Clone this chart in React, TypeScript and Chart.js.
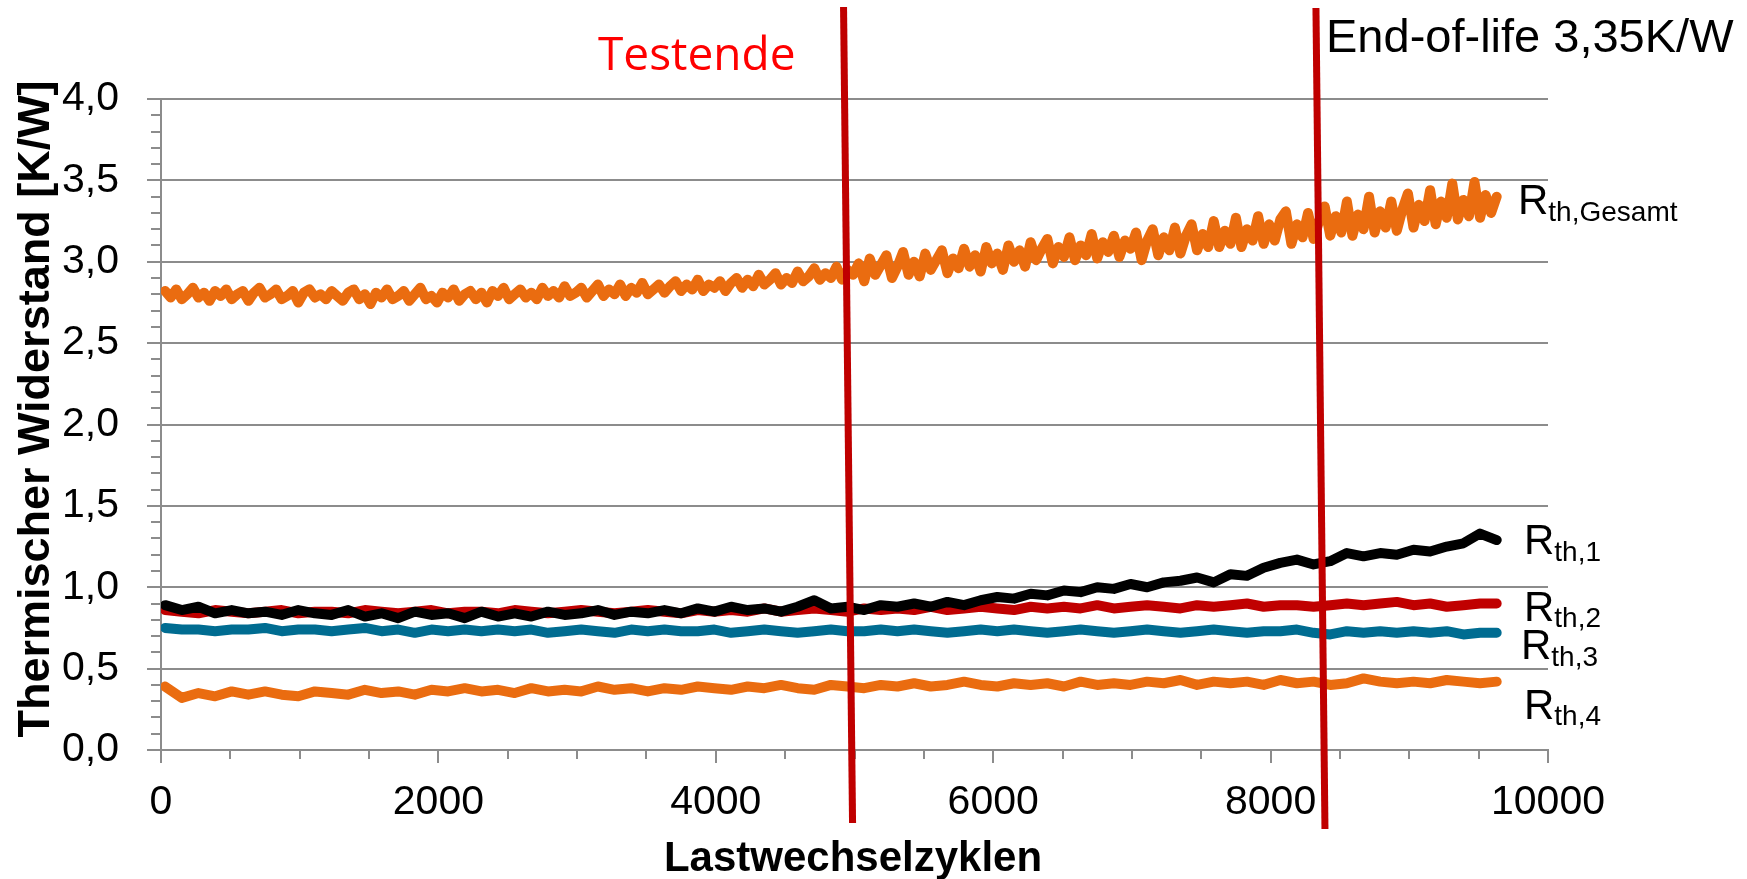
import React, { useEffect, useRef } from 'react';
import { Chart, registerables } from 'chart.js';

Chart.register(...registerables);

// ---- Data ----
const GESAMT_START = 30;
const GESAMT_STEP = 40;
const rthGesamt = [
  2.82, 2.78, 2.83, 2.77, 2.80, 2.84, 2.78, 2.81, 2.76, 2.82,
  2.79, 2.83, 2.77, 2.80, 2.82, 2.76, 2.81, 2.84, 2.78, 2.80,
  2.83, 2.77, 2.79, 2.82, 2.75, 2.81, 2.83, 2.78, 2.80, 2.77,
  2.82, 2.79, 2.76, 2.81, 2.83, 2.77, 2.80, 2.74, 2.81, 2.78,
  2.83, 2.77, 2.79, 2.82, 2.76, 2.80, 2.84, 2.77, 2.79, 2.75,
  2.81, 2.78, 2.83, 2.76, 2.80, 2.82, 2.77, 2.81, 2.75, 2.82,
  2.79, 2.84, 2.77, 2.80, 2.83, 2.78, 2.81, 2.77, 2.84, 2.79,
  2.82, 2.78, 2.85, 2.79, 2.81,
  2.84, 2.78, 2.82, 2.86, 2.79,
  2.83, 2.80, 2.86, 2.79, 2.84, 2.81, 2.87, 2.80, 2.83, 2.86,
  2.81, 2.85, 2.88, 2.82, 2.86, 2.83, 2.89, 2.82, 2.86, 2.84,
  2.88, 2.82, 2.87, 2.90, 2.84, 2.89, 2.85, 2.92, 2.86, 2.89,
  2.93, 2.86, 2.90, 2.87, 2.94, 2.88, 2.91, 2.96, 2.89, 2.93,
  2.90, 2.97, 2.89, 2.95, 2.92,
  2.99, 2.88, 3.02, 2.92, 2.98,
  3.04, 2.90, 2.97, 3.06, 2.92, 3.00, 2.91, 3.05, 2.95, 3.01,
  3.07, 2.93, 3.02, 2.96, 3.08, 2.97, 3.04, 2.94, 3.09, 2.99,
  3.05, 2.95, 3.10, 3.00, 3.07, 2.97, 3.12, 3.01, 3.08, 3.14,
  2.99, 3.09, 3.03, 3.15, 3.01, 3.10, 3.04, 3.17, 3.02, 3.12,
  3.06, 3.16, 3.03, 3.13, 3.08,
  3.18, 3.01, 3.13, 3.20, 3.04,
  3.15, 3.07, 3.21, 3.05, 3.16, 3.23, 3.07, 3.17, 3.09, 3.25,
  3.09, 3.19, 3.11, 3.27, 3.09, 3.20, 3.13, 3.28, 3.11, 3.23,
  3.13, 3.26, 3.31, 3.11, 3.23, 3.15, 3.30, 3.14, 3.25, 3.34,
  3.16, 3.28, 3.18, 3.37, 3.16, 3.29, 3.20, 3.40, 3.18, 3.31,
  3.21, 3.37, 3.19, 3.32, 3.42,
  3.21, 3.35, 3.25, 3.44, 3.23,
  3.37, 3.27, 3.48, 3.26, 3.38, 3.28, 3.49, 3.27, 3.41, 3.30,
  3.40,
];

const SERIES_START = 30;
const SERIES_STEP = 120;
const rth1 = [
  0.89, 0.86, 0.88, 0.84, 0.86, 0.84, 0.85, 0.83, 0.86, 0.84,
  0.83, 0.86, 0.82, 0.84, 0.81, 0.85, 0.83, 0.84, 0.81, 0.85,
  0.82, 0.84, 0.82, 0.85, 0.83, 0.84, 0.86, 0.83, 0.85, 0.84,
  0.86, 0.84, 0.87, 0.85, 0.88, 0.86, 0.87, 0.85, 0.88, 0.92,
  0.87, 0.88, 0.86, 0.89, 0.88, 0.90, 0.88, 0.91, 0.89, 0.92,
  0.94, 0.93, 0.96, 0.95, 0.98, 0.97, 1.00, 0.99, 1.02, 1.00,
  1.03, 1.04, 1.06, 1.03, 1.08, 1.07, 1.12, 1.15, 1.17, 1.14,
  1.16, 1.21, 1.19, 1.21, 1.20, 1.23, 1.22, 1.25, 1.27, 1.33,
  1.29,
];
const rth2 = [
  0.86, 0.85, 0.84, 0.86, 0.85, 0.84, 0.85, 0.86, 0.84, 0.85,
  0.85, 0.84, 0.86, 0.85, 0.84, 0.85, 0.86, 0.84, 0.85, 0.85,
  0.84, 0.86, 0.85, 0.84, 0.85, 0.86, 0.85, 0.84, 0.85, 0.86,
  0.85, 0.84, 0.86, 0.85, 0.86, 0.85, 0.87, 0.85, 0.86, 0.87,
  0.86, 0.85, 0.87, 0.86, 0.87, 0.86, 0.88, 0.86, 0.87, 0.88,
  0.87, 0.86, 0.88, 0.87, 0.88, 0.87, 0.89, 0.87, 0.88, 0.89,
  0.88, 0.87, 0.89, 0.88, 0.89, 0.90, 0.88, 0.89, 0.89, 0.88,
  0.89, 0.90, 0.89, 0.90, 0.91, 0.89, 0.90, 0.88, 0.89, 0.90,
  0.90,
];
const rth3 = [
  0.75, 0.74, 0.74, 0.73, 0.74, 0.74, 0.75, 0.73, 0.74, 0.74,
  0.73, 0.74, 0.75, 0.73, 0.74, 0.72, 0.74, 0.73, 0.74, 0.73,
  0.74, 0.73, 0.74, 0.72, 0.73, 0.74, 0.73, 0.72, 0.74, 0.73,
  0.74, 0.73, 0.73, 0.74, 0.72, 0.73, 0.74, 0.73, 0.72, 0.73,
  0.74, 0.73, 0.73, 0.74, 0.73, 0.74, 0.73, 0.72, 0.73, 0.74,
  0.73, 0.74, 0.73, 0.72, 0.73, 0.74, 0.73, 0.72, 0.73, 0.74,
  0.73, 0.72, 0.73, 0.74, 0.73, 0.72, 0.73, 0.73, 0.74, 0.72,
  0.71, 0.73, 0.72, 0.73, 0.72, 0.73, 0.72, 0.73, 0.71, 0.72,
  0.72,
];
const rth4 = [
  0.39, 0.32, 0.35, 0.33, 0.36, 0.34, 0.36, 0.34, 0.33, 0.36,
  0.35, 0.34, 0.37, 0.35, 0.36, 0.34, 0.37, 0.36, 0.38, 0.36,
  0.37, 0.35, 0.38, 0.36, 0.37, 0.36, 0.39, 0.37, 0.38, 0.36,
  0.38, 0.37, 0.39, 0.38, 0.37, 0.39, 0.38, 0.40, 0.38, 0.37,
  0.40, 0.39, 0.38, 0.40, 0.39, 0.41, 0.39, 0.40, 0.42, 0.40,
  0.39, 0.41, 0.40, 0.41, 0.39, 0.42, 0.40, 0.41, 0.40, 0.42,
  0.41, 0.43, 0.40, 0.42, 0.41, 0.42, 0.40, 0.43, 0.41, 0.42,
  0.40, 0.41, 0.44, 0.42, 0.41, 0.42, 0.41, 0.43, 0.42, 0.41,
  0.42,
];

const seriesLabels = ['Gesamt', '1', '2', '3', '4'];
const xTickStep = 2000;
const xMinorStep = 500;
const yTickStep = 0.5;
const yMinorStep = 0.1;

// Slanted red marker lines (data coordinates, extending beyond axes)
const markerTopX = [4921, 8327];
const markerTopY = [4.565, 4.559];
const markerBottomX = [4986, 8392];
const markerBottomY = [-0.449, -0.485];

const SANS = '"Liberation Sans", Arial, sans-serif';

function toPoints(start: number, step: number, values: number[]) {
  return values.map((v, i) => ({ x: start + step * i, y: v }));
}

const overlayPlugin = {
  id: 'overlay',
  afterDraw(chart: any) {
    const { ctx, chartArea, scales } = chart;
    const xs = scales.x;
    const ys = scales.y;
    ctx.save();
    // minor ticks
    ctx.strokeStyle = '#8c8c8c';
    ctx.lineWidth = 2;
    ctx.beginPath();
    for (let i = 1; i < Math.round(4 / yMinorStep); i++) {
      if (i % 5 === 0) continue;
      const y = Math.round(ys.getPixelForValue(i * yMinorStep));
      ctx.moveTo(chartArea.left - 10, y);
      ctx.lineTo(chartArea.left, y);
    }
    for (let v = xMinorStep; v < 10000; v += xMinorStep) {
      if (v % xTickStep === 0) continue;
      const x = Math.round(xs.getPixelForValue(v));
      ctx.moveTo(x, chartArea.bottom);
      ctx.lineTo(x, chartArea.bottom + 9);
    }
    ctx.stroke();

    // red marker lines
    ctx.strokeStyle = '#C00000';
    ctx.lineWidth = 7;
    ctx.lineCap = 'butt';
    for (let i = 0; i < markerTopX.length; i++) {
      ctx.beginPath();
      ctx.moveTo(xs.getPixelForValue(markerTopX[i]), ys.getPixelForValue(markerTopY[i]));
      ctx.lineTo(xs.getPixelForValue(markerBottomX[i]), ys.getPixelForValue(markerBottomY[i]));
      ctx.stroke();
    }

    // annotations
    ctx.fillStyle = '#FF0000';
    ctx.textAlign = 'left';
    ctx.textBaseline = 'alphabetic';
    ctx.font = `46px "Open Sans", "Noto Sans", sans-serif`;
    ctx.fillText('Testende', 598, 70);

    ctx.fillStyle = '#000';
    ctx.font = `47px ${SANS}`;
    ctx.fillText('End-of-life 3,35K/W', 1326, 52);

    // series labels R_th,x
    const labelPos = [
      { x: 1518, y: 214, sy: 221 },
      { x: 1524, y: 554, sy: 561 },
      { x: 1524, y: 621, sy: 627 },
      { x: 1521, y: 659, sy: 666 },
      { x: 1524, y: 719, sy: 725 },
    ];
    labelPos.forEach((p, i) => {
      ctx.font = `42px ${SANS}`;
      ctx.fillText('R', p.x, p.y);
      const w = ctx.measureText('R').width;
      ctx.font = `28px ${SANS}`;
      ctx.fillText('th,' + seriesLabels[i], p.x + w, p.sy);
    });

    // axis titles
    ctx.font = `bold 42px ${SANS}`;
    ctx.textAlign = 'center';
    ctx.fillText('Lastwechselzyklen', 853, 871);

    ctx.save();
    ctx.translate(49, 409);
    ctx.rotate(-Math.PI / 2);
    ctx.font = `bold 45px ${SANS}`;
    ctx.fillText('Thermischer Widerstand [K/W]', 0, 0);
    ctx.restore();

    ctx.restore();
  },
};

export default function App() {
  const ref = useRef<HTMLCanvasElement | null>(null);
  useEffect(() => {
    if (!ref.current) return;
    const lineDs = (label: string, data: any[], color: string, width: number) => ({
      label,
      data,
      borderColor: color,
      backgroundColor: color,
      borderWidth: width,
      pointRadius: 0,
      tension: 0,
      borderJoinStyle: 'round' as const,
      borderCapStyle: 'round' as const,
      fill: false,
    });
    const chart = new Chart(ref.current, {
      type: 'line',
      data: {
        datasets: [
          lineDs('Rth,Gesamt', toPoints(GESAMT_START, GESAMT_STEP, rthGesamt), '#EA6C10', 10),
          lineDs('Rth,1', toPoints(SERIES_START, SERIES_STEP, rth1), '#000000', 10),
          lineDs('Rth,2', toPoints(SERIES_START, SERIES_STEP, rth2), '#C00000', 10),
          lineDs('Rth,3', toPoints(SERIES_START, SERIES_STEP, rth3), '#006C91', 10),
          lineDs('Rth,4', toPoints(SERIES_START, SERIES_STEP, rth4), '#EA6C10', 10),
        ],
      },
      options: {
        responsive: false,
        animation: false,
        devicePixelRatio: 1,
        layout: { padding: { left: 0, top: 99, right: 199, bottom: 0 } },
        plugins: { legend: { display: false }, tooltip: { enabled: false } },
        font: { family: SANS },
        scales: {
          x: {
            type: 'linear',
            min: 0,
            max: 10000,
            ticks: {
              stepSize: xTickStep,
              color: '#000',
              font: { size: 41, family: SANS },
              padding: 15,
              maxRotation: 0,
              autoSkip: false,
              callback: (v: any) => String(v),
            },
            grid: { drawOnChartArea: false, tickLength: 13, color: '#8c8c8c', lineWidth: 2 },
            border: { color: '#8c8c8c', width: 2 },
            afterFit: (s: any) => { s.height = 129; },
          },
          y: {
            type: 'linear',
            min: 0,
            max: 4,
            ticks: {
              stepSize: yTickStep,
              color: '#000',
              font: { size: 41, family: SANS },
              padding: 28,
              callback: (v: any) => Number(v).toFixed(1).replace('.', ','),
            },
            grid: { tickLength: 14, color: '#8c8c8c', lineWidth: 2 },
            border: { color: '#8c8c8c', width: 2 },
            afterFit: (s: any) => { s.width = 161; },
          },
        },
      } as any,
      plugins: [overlayPlugin],
    });
    return () => chart.destroy();
  }, []);
  return (
    <div style={{ position: 'fixed', left: 0, top: 0, width: 1747, height: 879, background: '#fff' }}>
      <canvas ref={ref} width={1747} height={879} style={{ display: 'block', width: 1747, height: 879 }} />
    </div>
  );
}
